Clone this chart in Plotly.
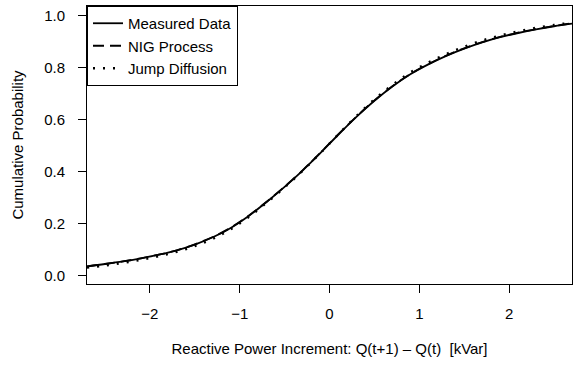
import plotly.graph_objects as go

# ---- data ----
x_vals = [-2.7, -2.5, -2.3, -2.1, -1.9, -1.7, -1.5, -1.3, -1.1, -0.9, -0.7, -0.5, -0.3, -0.1,
          0.1, 0.3, 0.5, 0.7, 0.9, 1.1, 1.3, 1.5, 1.7, 1.9, 2.1, 2.3, 2.5, 2.7]
measured = [0.035, 0.044, 0.054, 0.066, 0.080, 0.097, 0.119, 0.147, 0.183, 0.229, 0.283, 0.341,
            0.404, 0.472, 0.543, 0.611, 0.673, 0.728, 0.775, 0.813, 0.846, 0.874, 0.898, 0.918,
            0.934, 0.948, 0.960, 0.970]
nig = [0.035, 0.044, 0.054, 0.066, 0.080, 0.097, 0.120, 0.148, 0.184, 0.230, 0.284, 0.342,
       0.405, 0.473, 0.544, 0.612, 0.674, 0.729, 0.776, 0.814, 0.847, 0.875, 0.899, 0.919,
       0.935, 0.949, 0.961, 0.971]
jump = [0.030, 0.038, 0.048, 0.060, 0.074, 0.091, 0.113, 0.141, 0.178, 0.225, 0.280, 0.339,
        0.403, 0.472, 0.544, 0.614, 0.678, 0.734, 0.782, 0.820, 0.853, 0.881, 0.905, 0.924,
        0.940, 0.954, 0.965, 0.974]
x_ticks = [-2, -1, 0, 1, 2]
y_ticks = [0.0, 0.2, 0.4, 0.6, 0.8, 1.0]

FONT = "Liberation Sans, Arial, Helvetica, sans-serif"
FS = 15

fig = go.Figure()
fig.add_trace(go.Scatter(x=x_vals, y=measured, mode="lines", name="Measured Data",
                         line=dict(color="black", width=1.8, shape="spline")))
fig.add_trace(go.Scatter(x=x_vals, y=nig, mode="lines", name="NIG Process",
                         line=dict(color="black", width=1.8, dash="11px,6px", shape="spline")))
fig.add_trace(go.Scatter(x=x_vals, y=jump, mode="lines", name="Jump Diffusion",
                         line=dict(color="black", width=2.4, dash="2px,8px", shape="spline")))

fig.update_layout(
    width=573, height=368,
    margin=dict(l=87, r=1, t=6, b=84),
    paper_bgcolor="white", plot_bgcolor="white",
    font=dict(family=FONT, size=FS, color="black"),
    showlegend=True,
    legend=dict(x=0, y=1, xanchor="left", yanchor="top",
                bordercolor="black", borderwidth=1, bgcolor="white",
                font=dict(family=FONT, size=FS, color="black"),
                tracegroupgap=0, itemwidth=30),
)
fig.update_xaxes(
    range=[-2.7, 2.7], tickvals=x_ticks, ticktext=["\u22122", "\u22121", "0", "1", "2"],
    showgrid=False, zeroline=False, automargin=False,
    showline=True, mirror=True, linecolor="black", linewidth=1,
    ticks="outside", ticklen=8, tickcolor="black", tickwidth=1,
    ticklabelstandoff=8,
    tickfont=dict(family=FONT, size=FS, color="black"),
    title=dict(text="Reactive Power Increment: Q(t+1) \u2013 Q(t)  [kVar]",
               font=dict(family=FONT, size=FS, color="black"), standoff=22),
)
fig.update_yaxes(
    range=[-0.033, 1.038], tickvals=y_ticks, ticktext=["0.0", "0.2", "0.4", "0.6", "0.8", "1.0"],
    showgrid=False, zeroline=False, automargin=False,
    showline=True, mirror=True, linecolor="black", linewidth=1,
    ticks="outside", ticklen=8, tickcolor="black", tickwidth=1,
    ticklabelstandoff=10,
    tickfont=dict(family=FONT, size=FS, color="black"),
    title=dict(text="Cumulative Probability",
               font=dict(family=FONT, size=FS, color="black"), standoff=16),
)

fig.write_html("out.html",
               config={"displayModeBar": False},
               post_script="document.body.style.margin='0';document.body.style.padding='0';"
                           "document.documentElement.style.overflow='hidden';")
